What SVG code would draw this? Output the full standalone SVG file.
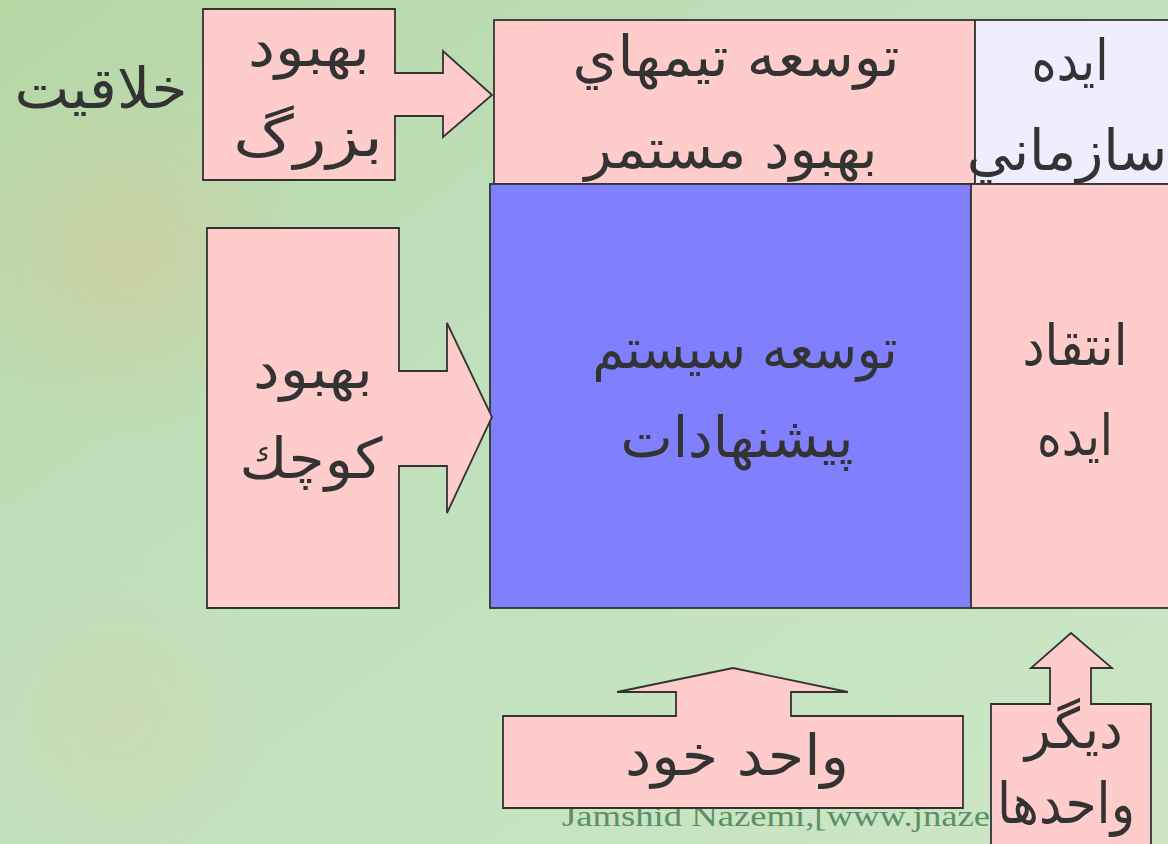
<svg xmlns="http://www.w3.org/2000/svg" width="1168" height="844" viewBox="0 0 1168 844">
<defs>
<linearGradient id="bg" x1="0" y1="0" x2="1" y2="1">
<stop offset="0" stop-color="#b6d6a4"/>
<stop offset="0.4" stop-color="#bfe0bb"/>
<stop offset="0.75" stop-color="#c6e4c0"/>
<stop offset="1" stop-color="#cfe6c6"/>
</linearGradient>
<radialGradient id="tan" cx="130" cy="260" r="180" gradientUnits="userSpaceOnUse">
<stop offset="0" stop-color="#d8c89a" stop-opacity="0.55"/>
<stop offset="1" stop-color="#d8c89a" stop-opacity="0"/>
</radialGradient>
<radialGradient id="tan2" cx="120" cy="720" r="160" gradientUnits="userSpaceOnUse">
<stop offset="0" stop-color="#d6d2a8" stop-opacity="0.4"/>
<stop offset="1" stop-color="#d6d2a8" stop-opacity="0"/>
</radialGradient>
<style>
.pink{fill:#ffcccc;stroke:#333;stroke-width:1.8}
.blue{fill:#8080ff;stroke:#333;stroke-width:1.8}
.lav{fill:#eeeeff;stroke:#333;stroke-width:1.8}
.t{font-family:"DejaVu Sans",sans-serif;font-size:56px;fill:#333;text-anchor:middle;direction:rtl}
.wm{font-family:"Liberation Serif",serif;font-size:29px;fill:#5b8f68}
</style>
</defs>
<rect width="1168" height="844" fill="url(#bg)"/>
<rect width="1168" height="844" fill="url(#tan)"/>
<rect width="1168" height="844" fill="url(#tan2)"/>

<text class="wm" x="562" y="826" textLength="428" lengthAdjust="spacingAndGlyphs">Jamshid Nazemi,[www.jnaze</text>

<g id="creativity">
<text class="t" x="101" y="108" textLength="173" lengthAdjust="spacingAndGlyphs">خلاقيت</text>
</g>

<g id="big-improvement">
<path class="pink" d="M203,9 H395 V73 H443 V51 L492,95 L443,137 V116 H395 V180 H203 Z"/>
<text class="t" x="309" y="66" textLength="122" lengthAdjust="spacingAndGlyphs">بهبود</text>
<text class="t" x="308" y="156" textLength="150" lengthAdjust="spacingAndGlyphs">بزرگ</text>
</g>

<g id="team-dev">
<rect class="pink" x="494" y="20" width="481" height="164"/>
<text class="t" x="736" y="76" textLength="327" lengthAdjust="spacingAndGlyphs">توسعه تيمهاي</text>
<text class="t" x="731" y="168" textLength="293" lengthAdjust="spacingAndGlyphs">بهبود مستمر</text>
</g>

<g id="org-idea">
<rect class="lav" x="975" y="20" width="200" height="164"/>
<text class="t" x="1070" y="80" textLength="77" lengthAdjust="spacingAndGlyphs">ايده</text>
<text class="t" x="1067" y="170" font-size="51px">سازماني</text>
</g>

<g id="suggestion-system">
<rect class="blue" x="490" y="184" width="481" height="424"/>
<text class="t" x="745" y="368" textLength="305" lengthAdjust="spacingAndGlyphs">توسعه سيستم</text>
<text class="t" x="737" y="457" textLength="233" lengthAdjust="spacingAndGlyphs">پيشنهادات</text>
</g>

<g id="idea-critique">
<rect class="pink" x="971" y="184" width="204" height="424"/>
<text class="t" x="1075" y="365" textLength="105" lengthAdjust="spacingAndGlyphs">انتقاد</text>
<text class="t" x="1075" y="455" textLength="76" lengthAdjust="spacingAndGlyphs">ايده</text>
</g>

<g id="small-improvement">
<path class="pink" d="M207,228 H399 V371 H447 V323 L492,417 L447,513 V466 H399 V608 H207 Z"/>
<text class="t" x="313" y="388" textLength="120" lengthAdjust="spacingAndGlyphs">بهبود</text>
<text class="t" x="311" y="478" textLength="143" lengthAdjust="spacingAndGlyphs">كوچك</text>
</g>

<g id="own-unit">
<path class="pink" d="M503,716 H676 V692 H617 L733,668 L848,692 H791 V716 H963 V808 H503 Z"/>
<text class="t" x="737" y="775" textLength="224" lengthAdjust="spacingAndGlyphs">واحد خود</text>
</g>

<g id="other-units">
<path class="pink" d="M991,704 H1050 V668 H1031 L1071,633 L1112,668 H1091 V704 H1151 V850 H991 Z"/>
<text class="t" x="1074" y="748" textLength="98" lengthAdjust="spacingAndGlyphs">ديگر</text>
<text class="t" x="1066" y="823" textLength="138" lengthAdjust="spacingAndGlyphs">واحدها</text>
</g>

<g id="connectors"></g>
</svg>
